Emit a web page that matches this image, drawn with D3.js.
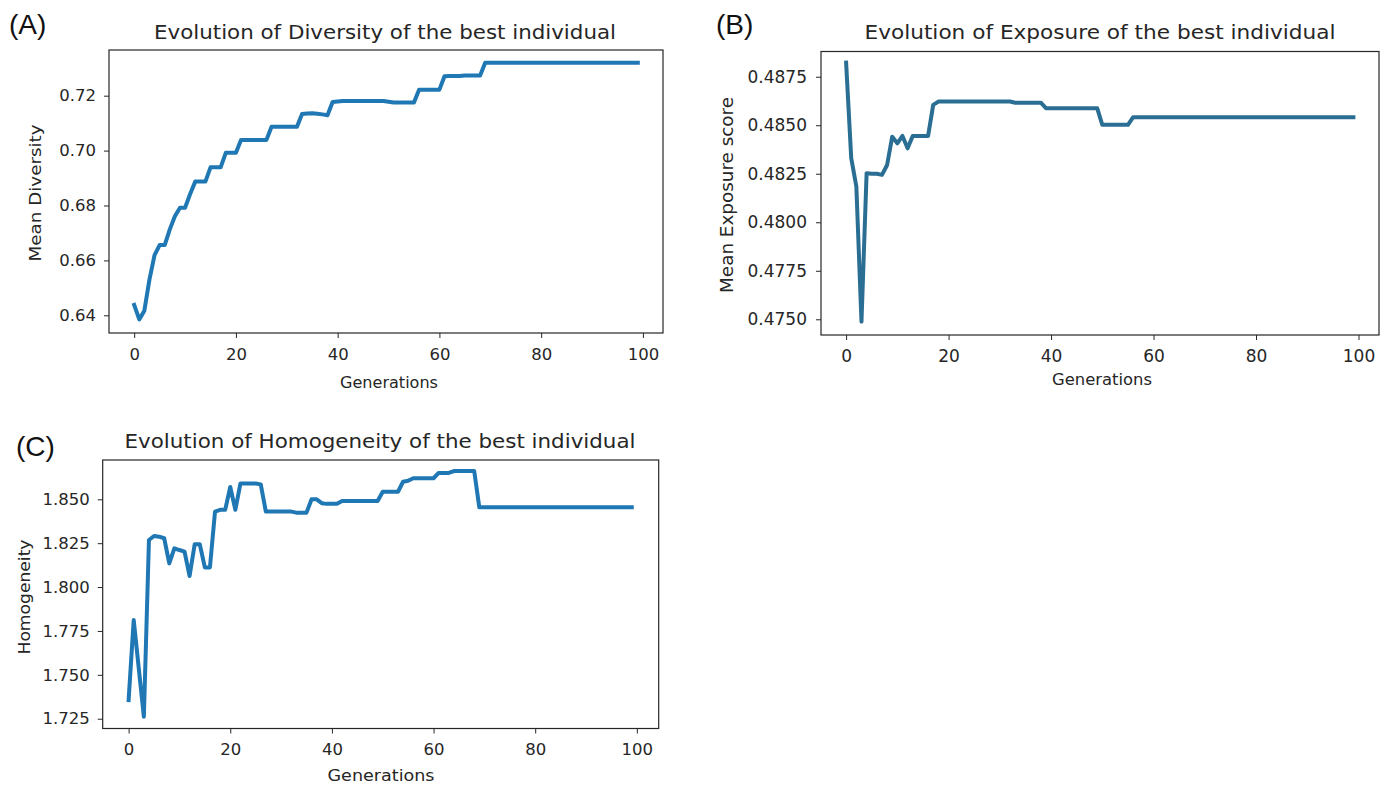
<!DOCTYPE html>
<html>
<head>
<meta charset="utf-8">
<script src="https://cdn.jsdelivr.net/npm/d3@7"></script>
<style>
    body { margin: 0; background: #fff; }
    svg { display: block; }
    .axis text { font-family: "DejaVu Sans", sans-serif; fill: #262626; }
    .axis path, .axis line { stroke: #262626; }
</style>
</head>
<body>
<div id="chart"></div>
<script>

// values, one per generation (0..99)
let diversity = [
    0.6438, 0.6385, 0.6417, 0.6530, 0.6619, 0.6656, 0.6656, 0.6713, 0.6761, 0.6792,
    0.6792, 0.6842, 0.6887, 0.6887, 0.6887, 0.6939, 0.6939, 0.6939, 0.6992, 0.6992,
    0.6992, 0.7039, 0.7039, 0.7039, 0.7039, 0.7039, 0.7039, 0.7087, 0.7087, 0.7087,
    0.7087, 0.7087, 0.7087, 0.7133, 0.7135, 0.7136, 0.7134, 0.7132, 0.7129, 0.7177,
    0.7179, 0.7181, 0.7181, 0.7181, 0.7181, 0.7181, 0.7181, 0.7181, 0.7181, 0.7181,
    0.7178, 0.7175, 0.7175, 0.7175, 0.7175, 0.7175, 0.7222, 0.7222, 0.7222, 0.7222,
    0.7222, 0.7271, 0.7272, 0.7272, 0.7272, 0.7274, 0.7274, 0.7274, 0.7274, 0.7320,
    0.7320, 0.7320, 0.7320, 0.7320, 0.7320, 0.7320, 0.7320, 0.7320, 0.7320, 0.7320,
    0.7320, 0.7320, 0.7320, 0.7320, 0.7320, 0.7320, 0.7320, 0.7320, 0.7320, 0.7320,
    0.7320, 0.7320, 0.7320, 0.7320, 0.7320, 0.7320, 0.7320, 0.7320, 0.7320, 0.7320
];

let exposure = [
    0.48823, 0.48330, 0.48184, 0.47488, 0.48253, 0.48250, 0.48250, 0.48244, 0.48295, 0.48441,
    0.48407, 0.48445, 0.48381, 0.48445, 0.48445, 0.48445, 0.48445, 0.48605, 0.48622, 0.48622,
    0.48622, 0.48622, 0.48622, 0.48622, 0.48622, 0.48622, 0.48622, 0.48622, 0.48622, 0.48622,
    0.48622, 0.48622, 0.48622, 0.48616, 0.48616, 0.48616, 0.48616, 0.48616, 0.48616, 0.48588,
    0.48588, 0.48588, 0.48588, 0.48588, 0.48588, 0.48588, 0.48588, 0.48588, 0.48588, 0.48588,
    0.48502, 0.48502, 0.48502, 0.48502, 0.48502, 0.48502, 0.48541, 0.48541, 0.48541, 0.48541,
    0.48541, 0.48541, 0.48541, 0.48541, 0.48541, 0.48541, 0.48541, 0.48541, 0.48541, 0.48541,
    0.48541, 0.48541, 0.48541, 0.48541, 0.48541, 0.48541, 0.48541, 0.48541, 0.48541, 0.48541,
    0.48541, 0.48541, 0.48541, 0.48541, 0.48541, 0.48541, 0.48541, 0.48541, 0.48541, 0.48541,
    0.48541, 0.48541, 0.48541, 0.48541, 0.48541, 0.48541, 0.48541, 0.48541, 0.48541, 0.48541
];

let homogeneity = [
    1.7356, 1.7812, 1.7536, 1.7261, 1.8268, 1.8291, 1.8287, 1.8278, 1.8135, 1.8221,
    1.8211, 1.8202, 1.8063, 1.8244, 1.8244, 1.8112, 1.8112, 1.8430, 1.8440, 1.8440,
    1.8570, 1.8440, 1.8590, 1.8590, 1.8590, 1.8590, 1.8585, 1.8430, 1.8430, 1.8430,
    1.8430, 1.8430, 1.8430, 1.8424, 1.8424, 1.8424, 1.8500, 1.8500, 1.8478, 1.8474,
    1.8474, 1.8474, 1.8490, 1.8490, 1.8490, 1.8490, 1.8490, 1.8490, 1.8490, 1.8490,
    1.8543, 1.8543, 1.8543, 1.8543, 1.8600, 1.8606, 1.8620, 1.8620, 1.8620, 1.8620,
    1.8620, 1.8650, 1.8650, 1.8650, 1.8661, 1.8661, 1.8661, 1.8661, 1.8661, 1.8454,
    1.8454, 1.8454, 1.8454, 1.8454, 1.8454, 1.8454, 1.8454, 1.8454, 1.8454, 1.8454,
    1.8454, 1.8454, 1.8454, 1.8454, 1.8454, 1.8454, 1.8454, 1.8454, 1.8454, 1.8454,
    1.8454, 1.8454, 1.8454, 1.8454, 1.8454, 1.8454, 1.8454, 1.8454, 1.8454, 1.8454
];

let xTicks = [0, 20, 40, 60, 80, 100];
let diversityTicks = [0.64, 0.66, 0.68, 0.70, 0.72];
let exposureTicks = [0.4750, 0.4775, 0.4800, 0.4825, 0.4850, 0.4875];
let homogeneityTicks = [1.725, 1.750, 1.775, 1.800, 1.825, 1.850];

let titles = [
    "Evolution of Diversity of the best individual",
    "Evolution of Exposure of the best individual",
    "Evolution of Homogeneity of the best individual"
];
let yLabels = ["Mean Diversity", "Mean Exposure score", "Homogeneity"];
let panelTags = ["(A)", "(B)", "(C)"];


let svg = d3.select("#chart").append("svg")
    .attr("width", 1393)
    .attr("height", 786);


function drawPanel(p) {

    let x = d3.scaleLinear().domain(p.xDomain).range([p.left, p.right]);
    let y = d3.scaleLinear().domain(p.yDomain).range([p.bottom, p.top]);

    let g = svg.append("g");

    // line first, frame on top like matplotlib
    let line = d3.line()
        .x((d, i) => x(i))
        .y(d => y(d));

    g.append("path")
        .datum(p.values)
        .attr("d", line)
        .attr("fill", "none")
        .attr("stroke", p.color)
        .attr("stroke-width", 4)
        .attr("stroke-linejoin", "round")
        .attr("stroke-linecap", "square");

    // frame
    g.append("rect")
        .attr("x", p.left).attr("y", p.top)
        .attr("width", p.right - p.left).attr("height", p.bottom - p.top)
        .attr("fill", "none")
        .attr("stroke", "#262626")
        .attr("stroke-width", 1.2);

    g.append("g")
        .attr("class", "axis")
        .attr("transform", `translate(0, ${p.bottom})`)
        .call(d3.axisBottom(x).tickValues(xTicks).tickSize(5).tickPadding(p.xPad).tickSizeOuter(0).tickFormat(d3.format("d")))
        .call(a => a.select(".domain").remove())
        .selectAll("text").style("font-size", p.tickFont + "px");

    g.append("g")
        .attr("class", "axis")
        .attr("transform", `translate(${p.left}, 0)`)
        .call(d3.axisLeft(y).tickValues(p.yTicks).tickSize(5).tickPadding(p.yPad).tickSizeOuter(0).tickFormat(d3.format(p.fmt)))
        .call(a => a.select(".domain").remove())
        .selectAll("text").style("font-size", p.tickFont + "px");

    // title
    g.append("text")
        .attr("x", p.title.x).attr("y", p.title.y)
        .attr("text-anchor", "middle")
        .attr("textLength", p.title.w)
        .attr("lengthAdjust", "spacingAndGlyphs")
        .style("font-family", "DejaVu Sans, sans-serif")
        .style("font-size", "19.5px")
        .style("fill", "#262626")
        .text(p.title.text);

    // axis labels
    g.append("text")
        .attr("transform", `translate(${p.ylab.x}, ${p.ylab.y}) rotate(-90)`)
        .attr("text-anchor", "middle")
        .attr("textLength", p.ylab.w)
        .attr("lengthAdjust", "spacingAndGlyphs")
        .style("font-family", "DejaVu Sans, sans-serif")
        .style("font-size", p.ylab.size + "px")
        .style("fill", "#262626")
        .text(p.ylab.text);

    g.append("text")
        .attr("x", p.xlab.x).attr("y", p.xlab.y)
        .attr("text-anchor", "middle")
        .attr("textLength", p.xlab.w)
        .attr("lengthAdjust", "spacingAndGlyphs")
        .style("font-family", "DejaVu Sans, sans-serif")
        .style("font-size", p.xlab.size + "px")
        .style("fill", "#262626")
        .text("Generations");

    // panel tag
    g.append("text")
        .attr("x", p.tag.x).attr("y", p.tag.y)
        .style("font-family", "Liberation Sans, Arial, sans-serif")
        .style("font-size", "28px")
        .style("fill", "#111")
        .text(p.tag.text);
}


drawPanel({
    values: diversity, color: "#1f77b4",
    left: 109, right: 663, top: 50, bottom: 333,
    xDomain: [-4.95, 103.95], yDomain: [0.63355, 0.73665],
    yTicks: diversityTicks, fmt: ".2f", tickFont: 16.5, xPad: 10, yPad: 8,
    title: {text: titles[0], x: 385, y: 39, w: 462},
    ylab: {text: yLabels[0], x: 41, y: 193, w: 137, size: 16},
    xlab: {x: 389, y: 388, w: 98, size: 15},
    tag: {text: panelTags[0], x: 9, y: 34}
});

drawPanel({
    values: exposure, color: "#2b6e94",
    left: 821, right: 1379, top: 51.5, bottom: 335,
    xDomain: [-4.9, 104], yDomain: [0.47419, 0.48880],
    yTicks: exposureTicks, fmt: ".4f", tickFont: 17, xPad: 10, yPad: 9,
    title: {text: titles[1], x: 1100, y: 39, w: 471},
    ylab: {text: yLabels[1], x: 733, y: 195, w: 196, size: 17},
    xlab: {x: 1102, y: 385, w: 100, size: 15.5},
    tag: {text: panelTags[1], x: 716, y: 34}
});

drawPanel({
    values: homogeneity, color: "#1f77b4",
    left: 102.7, right: 658.7, top: 460, bottom: 728.5,
    xDomain: [-5.1, 104.3], yDomain: [1.71942, 1.87239],
    yTicks: homogeneityTicks, fmt: ".3f", tickFont: 16.5, xPad: 10, yPad: 8,
    title: {text: titles[2], x: 380, y: 448, w: 511},
    ylab: {text: yLabels[2], x: 30, y: 597, w: 115, size: 16},
    xlab: {x: 381, y: 781, w: 107, size: 16},
    tag: {text: panelTags[2], x: 16, y: 456}
});

</script>
</body>
</html>
